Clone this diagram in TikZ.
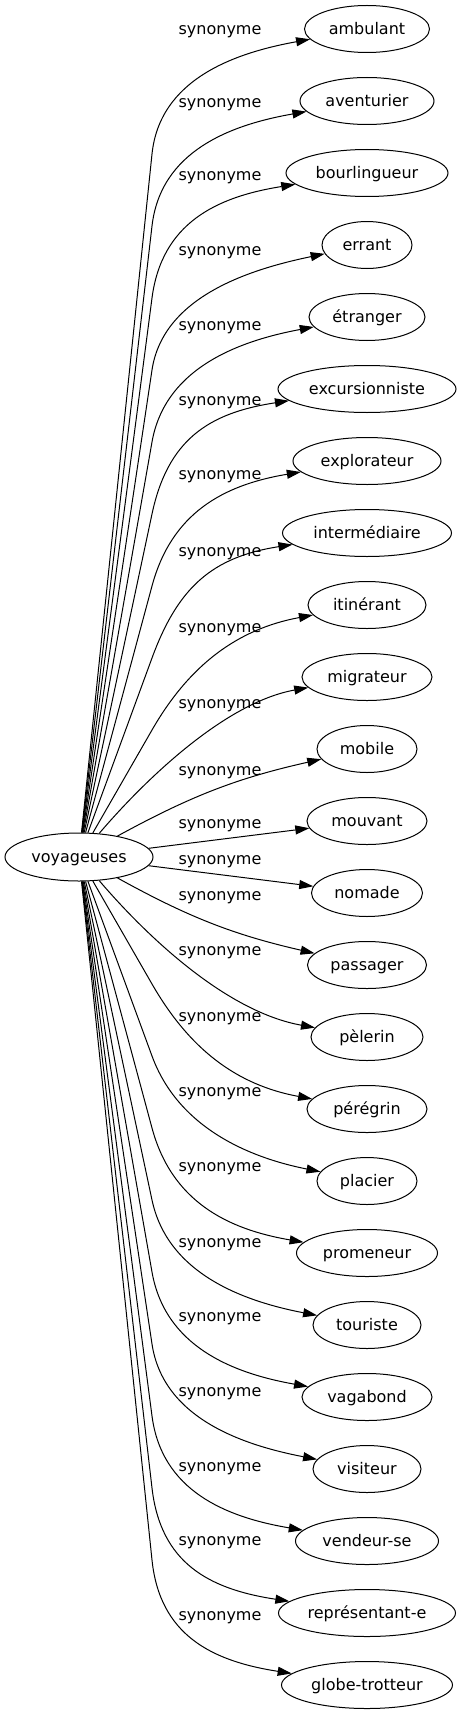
\documentclass[tikz,border=0pt]{standalone}
\usepackage{fontspec}
\setmainfont{DejaVu Sans}
\usetikzlibrary{calc, shapes.geometric, arrows.meta}

\begin{document}
\begin{tikzpicture}[x=1pt, y=-1pt, font=\fontsize{16pt}{19pt}\selectfont,
		word/.style={draw, ellipse, line width=1pt, inner sep=0pt, minimum height=47pt, text height=12pt, text depth=1pt},
		lab/.style={inner sep=0pt},
		syn/.style={line width=1pt, -{Triangle[length=14pt, width=9pt]}}]
		\useasboundingbox (0,0) rectangle (462,1715);
		
		\node[word, minimum width=148pt, minimum height=48pt] (src) at (79,857){voyageuses};
		
		\node[word, minimum width=125pt] (ambulant) at (367,29){ambulant};
		\node[word, minimum width=134pt] (aventurier) at (367,101){aventurier};
		\node[word, minimum width=162pt] (bourlingueur) at (367,173){bourlingueur};
		\node[word, minimum width=90pt] (errant) at (367,245){errant};
		\node[word, minimum width=116pt] (etranger) at (367,317){étranger};
		\node[word, minimum width=178pt] (excursionniste) at (367,389){excursionniste};
		\node[word, minimum width=148pt] (explorateur) at (367,461){explorateur};
		\node[word, minimum width=169pt] (intermediaire) at (367,533){intermédiaire};
		\node[word, minimum width=118pt] (itinerant) at (367,605){itinérant};
		\node[word, minimum width=130pt] (migrateur) at (367,677){migrateur};
		\node[word, minimum width=100pt] (mobile) at (367,749){mobile};
		\node[word, minimum width=120pt] (mouvant) at (367,821){mouvant};
		\node[word, minimum width=111pt] (nomade) at (367,893){nomade};
		\node[word, minimum width=119pt] (passager) at (367,965){passager};
		\node[word, minimum width=112pt] (pelerin) at (367,1037){pèlerin};
		\node[word, minimum width=120pt] (peregrin) at (367,1109){pérégrin};
		\node[word, minimum width=100pt] (placier) at (367,1181){placier};
		\node[word, minimum width=141pt] (promeneur) at (367,1253){promeneur};
		\node[word, minimum width=108pt] (touriste) at (367,1325){touriste};
		\node[word, minimum width=130pt] (vagabond) at (367,1397){vagabond};
		\node[word, minimum width=108pt] (visiteur) at (367,1469){visiteur};
		\node[word, minimum width=143pt] (vendeurse) at (367,1541){vendeur-se};
		\node[word, minimum width=177pt] (representant) at (367,1613){représentant-e};
		\node[word, minimum width=171pt] (globetrotteur) at (367,1685){globe-trotteur};
		
		\node[lab] (l0) at (220,32){synonyme};
		\node[lab] (l1) at (220,105){synonyme};
		\node[lab] (l2) at (220,178){synonyme};
		\node[lab] (l3) at (220,253){synonyme};
		\node[lab] (l4) at (220,328){synonyme};
		\node[lab] (l5) at (220,403){synonyme};
		\node[lab] (l6) at (220,477){synonyme};
		\node[lab] (l7) at (220,554){synonyme};
		\node[lab] (l8) at (220,630){synonyme};
		\node[lab] (l9) at (220,706){synonyme};
		\node[lab] (l10) at (220,773){synonyme};
		\node[lab] (l11) at (220,826){synonyme};
		\node[lab] (l12) at (220,862){synonyme};
		\node[lab] (l13) at (220,898){synonyme};
		\node[lab] (l14) at (220,953){synonyme};
		\node[lab] (l15) at (220,1019){synonyme};
		\node[lab] (l16) at (220,1094){synonyme};
		\node[lab] (l17) at (220,1169){synonyme};
		\node[lab] (l18) at (220,1245){synonyme};
		\node[lab] (l19) at (220,1319){synonyme};
		\node[lab] (l20) at (220,1394){synonyme};
		\node[lab] (l21) at (220,1469){synonyme};
		\node[lab] (l22) at (220,1543){synonyme};
		\node[lab] (l23) at (220,1618){synonyme};
		
		\foreach \n [count=\i from 0] in {ambulant, aventurier, bourlingueur, errant, etranger, excursionniste, explorateur, intermediaire, itinerant}{
			\pgfmathsetmacro{\yk}{29+72*\i+125}
			\draw[syn] (src) -- (152,\yk) .. controls ($(152,\yk)!-75pt!(src)$) and ($(\n.west)+(-70,24)$) .. (\n);
		}
		\foreach \n [count=\i from 15] in {peregrin, placier, promeneur, touriste, vagabond, visiteur, vendeurse, representant, globetrotteur}{
			\pgfmathsetmacro{\yk}{29+72*\i-125}
			\draw[syn] (src) -- (152,\yk) .. controls ($(152,\yk)!-75pt!(src)$) and ($(\n.west)+(-70,-24)$) .. (\n);
		}
		
		\draw[syn] (src) .. controls (150,774) and (228,702) .. (migrateur);
		\draw[syn] (src) to[bend left=8] (mobile);
		\draw[syn] (src) -- (mouvant);
		\draw[syn] (src) -- (nomade);
		\draw[syn] (src) to[bend right=8] (passager);
		\draw[syn] (src) .. controls (150,940) and (228,1012) .. (pelerin);
	\end{tikzpicture}
\end{document}
